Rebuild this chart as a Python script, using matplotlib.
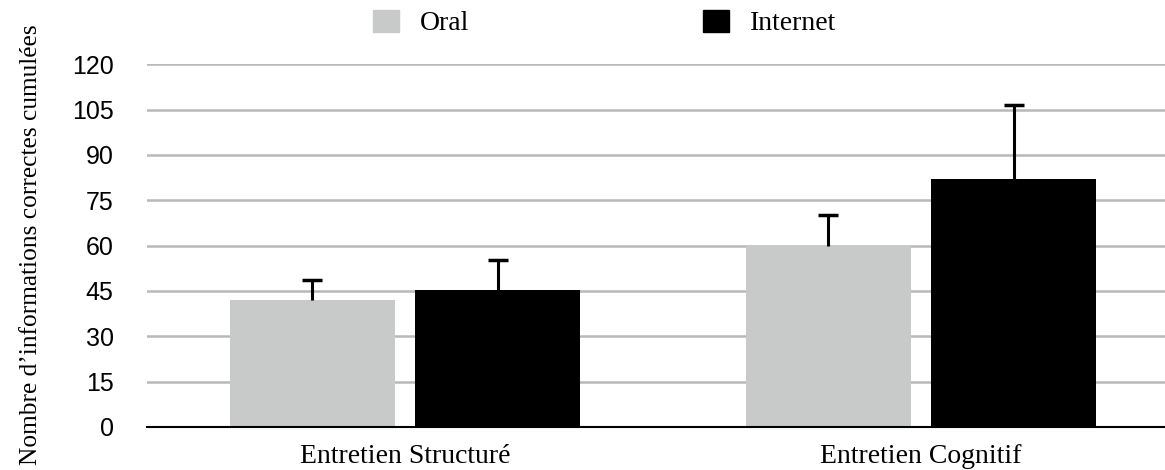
import numpy as np
import matplotlib.pyplot as plt
from matplotlib.patches import Patch

# Data
categories = ['Entretien Structuré', 'Entretien Cognitif']
oral = [42, 60]
internet = [45.3, 82]
oral_err = [6.6, 10.1]
internet_err = [10.1, 24.4]
yticks = [0, 15, 30, 45, 60, 75, 90, 105, 120]

x = np.arange(len(categories))
width = 0.32
offset = 0.18

fig = plt.figure(figsize=(11.65, 4.7), dpi=100)
ax = fig.add_axes([147 / 1165, 1 - 427 / 470, (1165 - 147) / 1165, (427 - 64.3) / 470])

ax.bar(x - offset, oral, width, color='#c8c9c9', zorder=2)
ax.bar(x + offset, internet, width, color='black', zorder=2)

# upper-only error bars
for xs, vals, errs in [(x - offset, oral, oral_err), (x + offset, internet, internet_err)]:
    tops = np.array(vals) + np.array(errs)
    ax.vlines(xs, vals, tops, color='black', linewidth=2.2, zorder=3)
    ax.plot(xs, tops, ls='none', marker='_', markersize=14, mew=2.5, color='black', zorder=3)

ax.set_xlim(-0.5, 1.473)
ax.set_ylim(0, 120)
ax.set_yticks(yticks)
ax.set_yticklabels([str(t) for t in yticks], fontfamily='Liberation Sans', fontsize=18)
ax.set_xticks(x)
ax.set_xticklabels(categories, fontfamily='Liberation Serif', fontsize=20)
ax.tick_params(axis='both', length=0)
ax.tick_params(axis='y', pad=24)
ax.tick_params(axis='x', pad=12)
ax.yaxis.grid(True, color='#b8b8b8', linewidth=1.8, zorder=0)
ax.set_axisbelow(True)
for s in ['top', 'right', 'left']:
    ax.spines[s].set_visible(False)
ax.spines['bottom'].set_linewidth(1.5)
ax.spines['bottom'].set_zorder(4)

fig.text(31 / 1165, 1 - 245 / 470, 'Nombre d’informations correctes cumulées', rotation=90,
         va='center', ha='center', fontfamily='Liberation Serif', fontsize=18.3)

lp = {'family': 'Liberation Serif', 'size': 20}
fig.legend(handles=[Patch(color='#c8c9c9', label='Oral')], loc='center left',
           bbox_to_anchor=(373 / 1165, 1 - 23 / 470), frameon=False, prop=lp,
           borderpad=0, borderaxespad=0, handlelength=0.95, handleheight=0.85,
           handletextpad=0.75)
fig.legend(handles=[Patch(color='black', label='Internet')], loc='center left',
           bbox_to_anchor=(703 / 1165, 1 - 23 / 470), frameon=False, prop=lp,
           borderpad=0, borderaxespad=0, handlelength=0.95, handleheight=0.85,
           handletextpad=0.75)

fig.savefig('out.png', dpi=100)
